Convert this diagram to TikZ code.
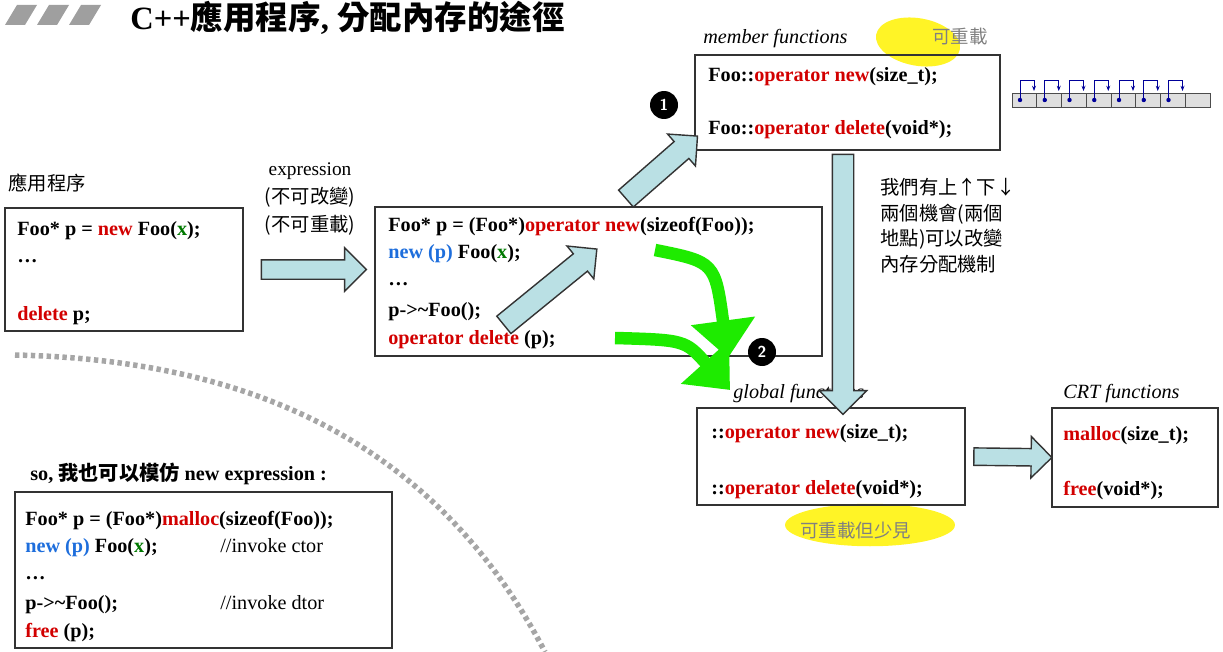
\documentclass[tikz,border=0pt]{standalone}
\usepackage{fontspec}
\setmainfont{Liberation Serif}
\newfontfamily\cjk{Noto Sans CJK TC}
\usetikzlibrary{positioning,fit,calc,shapes.arrows,arrows.meta}
\definecolor{kwred}{RGB}{210,0,0}
\definecolor{plblue}{RGB}{30,110,220}
\definecolor{xgreen}{RGB}{0,120,0}
\definecolor{arrowfill}{RGB}{186,224,228}
\definecolor{bigreen}{RGB}{30,235,0}
\newcommand{\kw}[1]{\textcolor{kwred}{#1}}
\newcommand{\pl}[1]{\textcolor{plblue}{#1}}
\newcommand{\gx}[1]{\textcolor{xgreen}{#1}}
\newcommand{\shaft}[1]{\rule{0pt}{#1}}
\tikzset{
  box/.style={rectangle, draw=black!80, thick, inner sep=0pt},
  code/.style={anchor=base west, inner sep=0pt, font=\fontsize{11.5}{13}\selectfont\bfseries},
  lbl/.style={anchor=base west, inner sep=0pt, font=\fontsize{11.5}{13}\selectfont\itshape},
  note/.style={anchor=base west, inner sep=0pt, font=\fontsize{10.5}{12}\selectfont\cjk},
  barrow/.style={single arrow, draw=black!80, fill=arrowfill, thick, inner sep=0pt, sloped},
  garrow/.style={draw=bigreen, line width=0.25cm, -{Triangle[length=0.75cm,width=1.25cm]}},
  badge/.style={circle, fill=black, text=white, inner sep=0pt, minimum size=0.56cm, font=\sffamily\bfseries\small},
  blob/.style={fill=yellow!85, ellipse, inner sep=0pt}
}
\usetikzlibrary{shapes.geometric}
\begin{document}
\begin{tikzpicture}[x=0.02cm, y=-0.02cm]
	\useasboundingbox (0,0) rectangle (1223,652);
	% title
	\foreach \i in {0,1,2}
		\fill[gray!75] (5+32*\i,25) -- (17+32*\i,5) -- (37+32*\i,5) -- (25+32*\i,25) -- cycle;
	\node[anchor=base west, inner sep=0pt, font=\fontsize{18.5}{20}\selectfont\bfseries] (title) at (130,30) {C++{\cjk 應用程序}, {\cjk 分配內存的途徑}};
	% highlights
	\node[blob, minimum width=1.7cm, minimum height=0.95cm, rotate=-10] at (918,42) {};
	\node[blob, minimum width=3.4cm, minimum height=0.85cm] at (870,525) {};
	% boxes
	\node[box, fit={(5,208) (243,331)}] (app) {};
	\node[box, fit={(375,207) (822,356)}] (expr) {};
	\node[box, fit={(695,55) (1000,150)}] (member) {};
	\node[box, fit={(697,408) (965,505)}] (global) {};
	\node[box, fit={(1052,408) (1218,507)}] (crt) {};
	\node[box, fit={(15,492) (392,648)}] (mimic) {};
	% texts
	\node[note, font=\fontsize{11}{13}\selectfont\cjk] at (8,190) {應用程序};
	\node[code] at (17,235) {Foo* p = \kw{new} Foo(\gx{x});};
	\node[code] at (17,262) {\dots};
	\node[code] at (17,320) {\kw{delete} p;};
	\node[inner sep=0pt, align=center, font=\fontsize{11}{16}\selectfont] (exprlab) at (310,199) {expression\\{\cjk (不可改變)}\\{\cjk (不可重載)}};
	\node[code] at (388,231) {Foo* p = (Foo*)\kw{operator new}(sizeof(Foo));};
	\node[code] at (388,258) {\pl{new (p)} Foo(\gx{x});};
	\node[code] at (388,285) {\dots};
	\node[code] at (388,316) {p->\textasciitilde Foo();};
	\node[code] at (388,344) {\kw{operator delete} (p);};
	\node[lbl] at (703,44) {member functions};
	\node[note, text=gray] at (932,44) {可重載};
	\node[code] at (708,82) {Foo::\kw{operator new}(size\_t);};
	\node[code] at (708,134) {Foo::\kw{operator delete}(void*);};
	\node[note, align=left, anchor=north west, font=\fontsize{11}{14.6}\selectfont\cjk] (why) at (880,178) {我們有上↑下↓\\兩個機會(兩個\\地點)可以改變\\內存分配機制};
	\node[lbl] at (733,398) {global functions};
	\node[code] at (711,438) {::\kw{operator new}(size\_t);};
	\node[code] at (711,494) {::\kw{operator delete}(void*);};
	\node[note, text=gray] at (800,537) {可重載但少見};
	\node[lbl] at (1063,398) {CRT functions};
	\node[code] at (1063,440) {\kw{malloc}(size\_t);};
	\node[code] at (1063,495) {\kw{free}(void*);};
	\node[code] at (30,480) {so, {\cjk 我也可以模仿} new expression :};
	\node[code] at (25,525) {Foo* p = (Foo*)\kw{malloc}(sizeof(Foo));};
	\node[code] at (25,552) {\pl{new (p)} Foo(\gx{x});};
	\node[code, font=\fontsize{11.5}{13}\selectfont] at (220,552) {//invoke ctor};
	\node[code] at (25,579) {\dots};
	\node[code] at (25,609) {p->\textasciitilde Foo();};
	\node[code, font=\fontsize{11.5}{13}\selectfont] at (220,609) {//invoke dtor};
	\node[code] at (25,637) {\kw{free} (p);};
	% small array
	\foreach \i in {0,...,7}
		\draw[fill=gray!25, draw=black!70] (1012+24.75*\i,93) rectangle ++(24.75,14);
	\foreach \i in {0,...,6} {
		\fill[blue!60!black] (1020+24.75*\i,100) circle (2.2);
		\draw[blue!60!black, -{Stealth[length=3pt]}] (1020+24.75*\i,100) -- (1020+24.75*\i,80) -- (1034+24.75*\i,80) -- (1034+24.75*\i,91);
	}
	% block arrows
	\coordinate (t1) at (622,202);
	\coordinate (h1) at (693,140);
	\coordinate (t2) at (500,328);
	\coordinate (h2) at (592,253);
	\path (app.east) -- (app.east -| expr.west) node[midway, barrow, minimum height=2.1cm, single arrow head extend=0.24cm] {\shaft{0.36cm}};
	\path (t1) -- (h1) node[midway, barrow, minimum height=1.9cm, single arrow head extend=0.2cm] {\shaft{0.42cm}};
	\path (t2) -- (h2) node[midway, barrow, minimum height=2.4cm, single arrow head extend=0.2cm] {\shaft{0.42cm}};
	\path (member.south -| 843,0) -- (global.north -| 843,0) node[midway, barrow, minimum height=5.2cm, single arrow head extend=0.26cm] {\shaft{0.4cm}};
	\path (global.east) -- (crt.west) node[midway, barrow, minimum height=1.56cm, single arrow head extend=0.24cm] {\shaft{0.32cm}};
	% green arrows
	\coordinate (g1) at (655,250);
	\coordinate (g2) at (615,338);
	\draw[garrow] (g1) .. controls (715,262) .. (728,358);
	\draw[garrow] (g2) .. controls (685,340) .. (730,390);
	% badges
	\node[badge] (b1) at (664,105) {1};
	\node[badge] (b2) at (762,352) {2};
	% divider
	\draw[gray!70, line width=0.11cm, dash pattern=on 2.5pt off 2pt] (15,355) .. controls (260,360) and (440,450) .. (545,652);
\end{tikzpicture}
\end{document}
